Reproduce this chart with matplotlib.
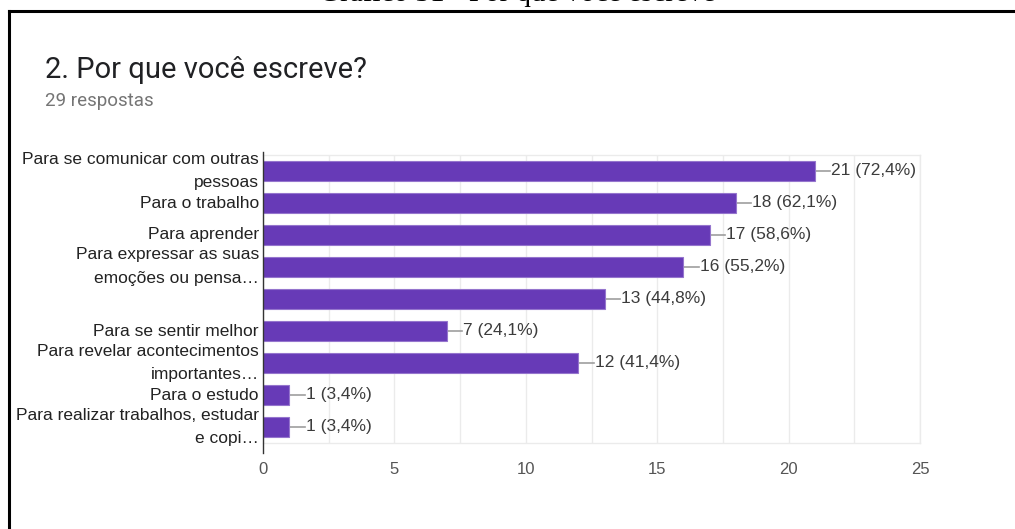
import matplotlib
matplotlib.use('Agg')
import matplotlib.pyplot as plt
from matplotlib.lines import Line2D
from matplotlib.transforms import blended_transform_factory, offset_copy

# ── Data ──────────────────────────────────────────────────
categories = [
    "Para se comunicar com outras\npessoas",
    "Para o trabalho",
    "Para aprender",
    "Para expressar as suas\nemoções ou pensa…",
    "",
    "Para se sentir melhor",
    "Para revelar acontecimentos\nimportantes…",
    "Para o estudo",
    "Para realizar trabalhos, estudar\ne copi…",
]
counts = [21, 18, 17, 16, 13, 7, 12, 1, 1]
percents = ["72,4", "62,1", "58,6", "55,2", "44,8", "24,1", "41,4", "3,4", "3,4"]
x_ticks = [0, 5, 10, 15, 20, 25]

title = "2. Por que você escreve?"
subtitle = "29 respostas"
caption = "Gráfico 31 - Por que você escreve"

# ── Figure ────────────────────────────────────────────────
W, H = 1015, 529
fig = plt.figure(figsize=(W / 100, H / 100), dpi=100)
plt.rcParams['font.family'] = ['Liberation Sans', 'DejaVu Sans']

def px(x, y):
    return x / W, 1 - y / H

# caption, mostly cut off by the top edge (as in the source scan)
cx, cy = px(517, 1)
fig.text(cx, cy, caption, family=['Liberation Serif'], fontsize=21,
         ha='center', va='baseline', color='black')

# box border (left + top)
fig.add_artist(Line2D([9 / W, 9 / W], [0, 1 - 11 / H], color='black', lw=2.2))
fig.add_artist(Line2D([9 / W, 1], [1 - 11 / H, 1 - 11 / H], color='black', lw=2.2))

tx, ty = px(45, 70)
fig.text(tx, ty, title, family=['Roboto', 'DejaVu Sans'], fontsize=21,
         color='#202124', va='center')
sx, sy = px(45, 101)
fig.text(sx, sy, subtitle, family=['Roboto', 'DejaVu Sans'], fontsize=13.5,
         color='#757575', va='center')

# ── Axes ──────────────────────────────────────────────────
left, right = 263, 920
top, bottom = 155, 443
ax = fig.add_axes([left / W, 1 - bottom / H, (right - left) / W, (bottom - top) / H])

y = list(range(len(categories)))
ax.barh(y, counts, height=0.62, color='#673ab7', edgecolor='#9575cd', linewidth=0.8, zorder=3)

for yi, c, p in zip(y, counts, percents):
    ax.plot([c, c + 0.58], [yi, yi], color='#9e9e9e', lw=1.2, zorder=2, clip_on=False)
    ax.text(c + 0.62, yi, f"{c} ({p}%)", va='center', ha='left',
            fontsize=12.5, color='#3c3c3c')

# category labels: each line placed separately, 24 px apart
lab_tr = offset_copy(blended_transform_factory(ax.transAxes, ax.transData),
                     fig=fig, x=-3, y=0, units='points')
for yi, lab in zip(y, categories):
    lines = lab.split('\n') if lab else []
    n = len(lines)
    for k, line in enumerate(lines):
        dy = (k - (n - 1) / 2) * 0.75
        ax.text(0, yi + dy, line, transform=lab_tr, ha='right', va='center',
                fontsize=12.5, color='#222222')

ax.set_xlim(0, 25)
ax.set_ylim(len(categories) - 0.5, -0.5)
ax.set_xticks(x_ticks)
ax.set_xticks([2.5, 7.5, 12.5, 17.5, 22.5], minor=True)
ax.set_xticklabels([str(t) for t in x_ticks], fontsize=12, color='#555555')
ax.set_yticks(y)
ax.set_yticklabels([])
ax.tick_params(axis='both', length=0, pad=3)
ax.tick_params(axis='x', which='minor', length=0)
ax.tick_params(axis='x', pad=14)
ax.grid(axis='x', which='both', color='#ebebeb', lw=1.0, zorder=0)

for s in ['top', 'right', 'bottom']:
    ax.spines[s].set_color('#ebebeb')
    ax.spines[s].set_linewidth(1.0)
ax.spines['left'].set_visible(False)
ax.plot([0, 0], [-0.6, 8.8], color='#333333', lw=1.0, zorder=4, clip_on=False)

fig.savefig('out.png', dpi=100)
